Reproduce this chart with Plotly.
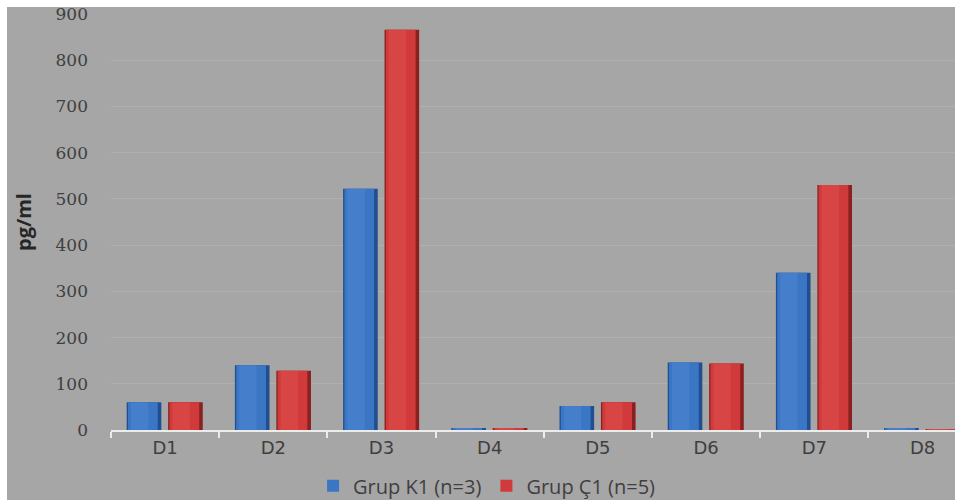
import plotly.graph_objects as go

# Cytokine levels per donor sample
categories = ["D1", "D2", "D3", "D4", "D5", "D6", "D7", "D8"]
grup_k1 = [60, 140, 522, 3, 52, 146, 340, 3]
grup_c1 = [60, 128, 866, 3, 60, 144, 530, 1.5]

series_names = ["Grup K1 (n=3)", "Grup Ç1 (n=5)"]
y_ticks = [0, 100, 200, 300, 400, 500, 600, 700, 800, 900]

BG = "#a6a6a6"
TEXT = "#3f3f3f"

# (edge, body, highlight) shades for the bevelled bar look
blue = ("#1f4f8e", "#3a76c4", "#5b93dc")
red = ("#8a2020", "#d03a3a", "#e45b5b")

bar_w = 0.32
offsets = [-0.355, 0.028]

fig = go.Figure()

for name, vals, shades, off in [
    (series_names[0], grup_k1, blue, offsets[0]),
    (series_names[1], grup_c1, red, offsets[1]),
]:
    # dark outer edge
    fig.add_trace(go.Bar(
        x=categories, y=vals, width=bar_w, offset=off,
        marker=dict(color=shades[0], line=dict(width=0)),
        showlegend=False, hoverinfo="skip",
    ))
    # main body (legend entry)
    fig.add_trace(go.Bar(
        x=categories, y=vals, width=bar_w - 0.045, offset=off + 0.012,
        marker=dict(color=shades[1], line=dict(width=0)),
        name=name, showlegend=True,
    ))
    # soft highlight band
    fig.add_trace(go.Bar(
        x=categories, y=vals, width=bar_w * 0.5, offset=off + 0.04,
        marker=dict(color=shades[2], line=dict(width=0), opacity=0.35),
        showlegend=False, hoverinfo="skip",
    ))

fig.update_layout(
    width=955,
    height=500,
    barmode="overlay",
    paper_bgcolor=BG,
    plot_bgcolor=BG,
    margin=dict(l=111, r=0, t=14, b=70, autoexpand=False),
    font=dict(family="DejaVu Sans", color=TEXT),
    showlegend=True,
    legend=dict(
        orientation="h",
        xref="paper", yref="paper",
        x=0.445, y=-0.134, xanchor="center", yanchor="middle",
        font=dict(family="Open Sans", size=20, color=TEXT),
        itemwidth=30,
        traceorder="normal",
        bgcolor="rgba(0,0,0,0)",
    ),
    xaxis=dict(
        range=[-0.5, 7.3],
        showgrid=False,
        showline=True, linecolor="#ececec", linewidth=2,
        ticks="outside", tickson="boundaries", ticklen=6,
        tickcolor="#ececec", tickwidth=2,
        tickfont=dict(family="DejaVu Sans", size=18, color=TEXT),
        zeroline=False,
    ),
    yaxis=dict(
        range=[0, 900],
        tickvals=y_ticks,
        showgrid=True, gridcolor="#b0b0b0", gridwidth=1,
        zeroline=False, showline=False,
        tickfont=dict(family="DejaVu Serif", size=17, color=TEXT),
        ticklabelstandoff=22,
        title=dict(text="<b>pg/ml</b>", font=dict(family="Open Sans", size=20, color="#262626"), standoff=18),
    ),
    shapes=[
        # thin white frame strips along the top and left edges
        dict(type="rect", xref="paper", yref="paper",
             x0=-111 / 844, x1=1.0, y0=1 + 7 / 416, y1=1 + 14 / 416,
             fillcolor="white", line=dict(width=0), layer="above"),
        dict(type="rect", xref="paper", yref="paper",
             x0=-111 / 844, x1=-104 / 844, y0=-70 / 416, y1=1 + 14 / 416,
             fillcolor="white", line=dict(width=0), layer="above"),
    ],
)

fig.write_html("out.html")
